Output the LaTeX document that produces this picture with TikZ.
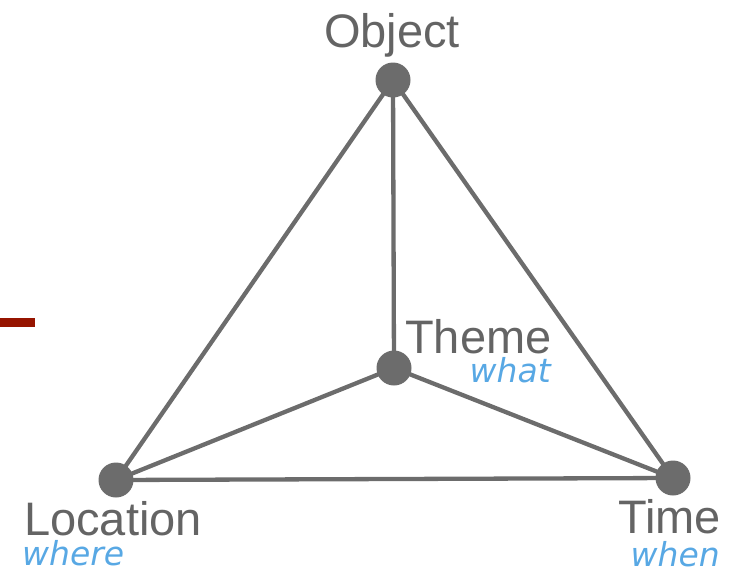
\documentclass[tikz,border=0pt]{standalone}
\usepackage{fontspec}
\setmainfont{Liberation Sans}
\newfontfamily\hintfont{DejaVu Sans}
\definecolor{edgegray}{RGB}{108,108,108}
\definecolor{labelgray}{RGB}{100,100,100}
\definecolor{hintblue}{RGB}{88,168,228}
\definecolor{barred}{RGB}{150,20,0}
\tikzset{
  vertex/.style={circle, fill=edgegray, inner sep=0pt, minimum size=35pt},
  edge/.style={draw=edgegray, line width=4.3pt},
  vlabel/.style={inner sep=0pt, text=labelgray, font=\fontsize{47}{50}\selectfont},
  hint/.style={inner sep=0pt, text=hintblue, font=\hintfont\itshape\fontsize{33}{36}\selectfont}
}
\begin{document}
\begin{tikzpicture}[x=1pt,y=-1pt]
\useasboundingbox (0,0) rectangle (729,571);
% short bar at the left edge
\fill[barred] (0,318) rectangle (35,327);
% vertices of the tetrahedron
\coordinate (o) at (393,80);
\coordinate (t) at (394,368);
\coordinate (l) at (116,480);
\coordinate (m) at (673,478);
% edges
\draw[edge] (o) -- (l) -- (m) -- cycle;
\draw[edge] (o) -- (t);
\draw[edge] (l) -- (t) -- (m);
\node[vertex] (vo) at (o) {};
\node[vertex] (vt) at (t) {};
\node[vertex] (vl) at (l) {};
\node[vertex] (vm) at (m) {};
% labels
\node[vlabel, anchor=base] (lo) at (392,47) {Object};
\node[vlabel, anchor=base west] (lt) at (405,353) {Theme};
\node[hint, anchor=base east] (ht) at (551,382) {what};
\node[vlabel, anchor=base west] (ll) at (24,535) {Location};
\node[hint, anchor=base west] (hl) at (22,565) {where};
\node[vlabel, anchor=base east] (lm) at (721,533) {Time};
\node[hint, anchor=base east] (hm) at (720,566) {when};
\end{tikzpicture}
\end{document}
